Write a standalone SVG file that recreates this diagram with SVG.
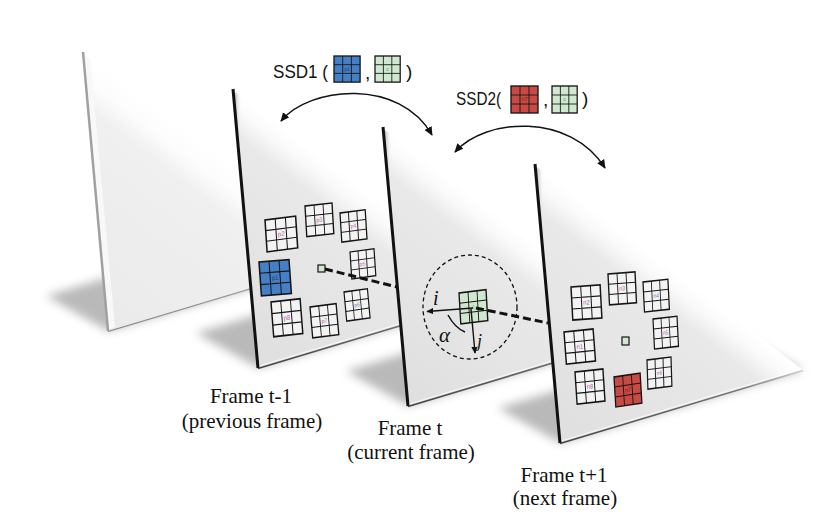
<svg xmlns="http://www.w3.org/2000/svg" xmlns:xlink="http://www.w3.org/1999/xlink" width="834" height="532" viewBox="0 0 834 532">
<style>
.lbl{font-family:"Liberation Serif","Times New Roman",serif;font-size:21px;fill:#111;text-anchor:middle}
.ssd{font-family:"Liberation Sans",Arial,sans-serif;font-size:19px;fill:#111}
.tiny{font-family:"Liberation Sans",Arial,sans-serif;font-size:6px;text-anchor:middle}
.pl{fill:#b85aa8}
.dash{fill:none;stroke:#111;stroke-width:3;stroke-dasharray:8 4}
.arc{fill:none;stroke:#111;stroke-width:1.5}
.math{font-family:"Liberation Serif","Times New Roman",serif;font-style:italic;fill:#111}
</style>
<defs>
  <filter id="blur" x="-30%" y="-30%" width="160%" height="160%"><feGaussianBlur stdDeviation="5"/></filter>
  <linearGradient id="pf" gradientUnits="userSpaceOnUse" x1="0" y1="0" x2="-125.6" y2="163.3">
    <stop offset="0" stop-color="#ffffff"/>
    <stop offset="0.07" stop-color="#fafafa"/>
    <stop offset="0.17" stop-color="#e9e9e9"/>
    <stop offset="1" stop-color="#dfdfdf"/>
  </linearGradient>
  <linearGradient id="pf0" gradientUnits="userSpaceOnUse" x1="0" y1="0" x2="-125.6" y2="163.3">
    <stop offset="0" stop-color="#ffffff"/>
    <stop offset="0.1" stop-color="#fcfcfc"/>
    <stop offset="0.2" stop-color="#f0f0f0"/>
    <stop offset="1" stop-color="#eaeaea"/>
  </linearGradient>
  <linearGradient id="edge" gradientUnits="userSpaceOnUse" x1="0" y1="0" x2="8" y2="0">
    <stop offset="0" stop-color="#9a9a9a"/>
    <stop offset="1" stop-color="#e4e4e4" stop-opacity="0"/>
  </linearGradient>
  <linearGradient id="be" gradientUnits="userSpaceOnUse" x1="25" y1="279" x2="268" y2="206">
    <stop offset="0" stop-color="#444"/>
    <stop offset="0.75" stop-color="#777"/>
    <stop offset="1" stop-color="#cfcfcf"/>
  </linearGradient>
  <g id="panel">
    <polygon points="25,279 -37,244 206,171 268,206" fill="#a8a8a8" opacity="0.8" filter="url(#blur)"/>
    <polygon points="0,0 25,279 268,206" fill="url(#pf)"/>
    <polygon points="1,3 26,277 34,274 9,7" fill="url(#edge)"/>
    <line x1="26" y1="277" x2="266" y2="205" stroke="#fff" stroke-width="1" opacity="0.8"/>
    <line x1="25" y1="279.5" x2="268" y2="206.5" stroke="url(#be)" stroke-width="1.6"/>
  </g>
  <g id="g">
    <rect x="0" y="0" width="30" height="30" stroke="#151515" stroke-width="1.5"/>
    <path d="M10,0V30M20,0V30M0,10H30M0,20H30" stroke="#151515" stroke-width="1" fill="none"/>
  </g>
  <marker id="ah" viewBox="0 0 10 10" refX="9" refY="5" markerWidth="9" markerHeight="9" markerUnits="userSpaceOnUse" orient="auto-start-reverse">
    <path d="M0,0.5 L10,5 L0,9.5 z" fill="#111"/>
  </marker>
  <marker id="ahs" viewBox="0 0 10 10" refX="9" refY="5" markerWidth="7" markerHeight="7" markerUnits="userSpaceOnUse" orient="auto">
    <path d="M0,0.5 L10,5 L0,9.5 z" fill="#111"/>
  </marker>
</defs>
<rect width="834" height="532" fill="#fff"/>

<!-- Frame t-2 (blank) -->
<g id="frame-blank" transform="translate(83,52)">
  <polygon points="25,279 -37,244 206,171 268,206" fill="#a8a8a8" opacity="0.8" filter="url(#blur)"/>
  <polygon points="0,0 25,279 268,206" fill="url(#pf0)"/>
  <polygon points="1,3 26,277 32,275 7,6" fill="#f8f8f8"/>
  <line x1="25" y1="279.5" x2="268" y2="206.5" stroke="url(#be)" stroke-width="1.2" opacity="0.6"/>
  <line x1="0" y1="0" x2="25" y2="279" stroke="#a0a0a0" stroke-width="2.5"/>
</g>

<!-- Frame t-1 -->
<g id="frame-prev">
  <use href="#panel" transform="translate(233,89)"/>
  <line x1="233" y1="89" x2="258" y2="368" stroke="#111" stroke-width="3"/>
  <g transform="matrix(1.02,-0.13,0.07,1.06,265,220)"><use href="#g" fill="#f3f3f3"/><text class="tiny pl" x="15" y="17">p2</text></g>
  <g transform="matrix(0.9,-0.1,0.06,1.02,305,206)"><use href="#g" fill="#f3f3f3"/><text class="tiny pl" x="15" y="17">p3</text></g>
  <g transform="matrix(0.84,-0.11,0.06,0.97,340,213)"><use href="#g" fill="#f3f3f3"/><text class="tiny pl" x="15" y="17">p4</text></g>
  <g transform="matrix(1.0,-0.08,0.08,1.13,259,262)"><use href="#g" fill="#4580c6"/><text class="tiny" x="15" y="17" fill="#1d3c66">p1</text></g>
  <g transform="matrix(0.8,-0.11,0.06,0.9,350,252)"><use href="#g" fill="#f3f3f3"/><text class="tiny pl" x="15" y="17">p5</text></g>
  <g transform="matrix(0.97,-0.11,0.09,1.16,271,302)"><use href="#g" fill="#f3f3f3"/><text class="tiny pl" x="15" y="17">p8</text></g>
  <g transform="matrix(0.87,-0.11,0.09,1.03,310,307)"><use href="#g" fill="#f3f3f3"/><text class="tiny pl" x="15" y="17">p7</text></g>
  <g transform="matrix(0.78,-0.11,0.09,0.97,344,292)"><use href="#g" fill="#f3f3f3"/><text class="tiny" x="15" y="17" fill="#5a7ab8">p6</text></g>
  <rect x="318" y="265" width="7" height="7" fill="#cfe8cf" stroke="#151515" stroke-width="1.2"/>
</g>

<!-- Frame t -->
<g id="frame-current">
  <use href="#panel" transform="translate(383,127)"/>
  <line x1="383" y1="127" x2="408" y2="406" stroke="#111" stroke-width="3"/>
  <ellipse cx="470" cy="307" rx="47" ry="52" fill="none" stroke="#111" stroke-width="1.3" stroke-dasharray="4 3"/>
  <g transform="matrix(0.9,-0.11,0.06,1.03,459,293)"><use href="#g" fill="#cfe8cf"/><text class="tiny" x="15" y="17" fill="#3a9a7a">c</text></g>
  <path d="M448,315 Q455,328 465,332" fill="none" stroke="#111" stroke-width="1.5"/>
  <text class="math" x="433" y="305" font-size="20">i</text>
  <text class="math" x="477" y="347" font-size="18">j</text>
  <text class="math" x="439" y="342" font-size="21">α</text>
</g>

<!-- Frame t+1 -->
<g id="frame-next">
  <use href="#panel" transform="translate(535,164)"/>
  <line x1="535" y1="164" x2="560" y2="443" stroke="#111" stroke-width="3"/>
  <g transform="matrix(0.97,-0.07,0.06,1.1,571,287)"><use href="#g" fill="#f3f3f3"/><text class="tiny pl" x="15" y="17">n2</text></g>
  <g transform="matrix(0.9,-0.07,0.05,1.03,608,274)"><use href="#g" fill="#f3f3f3"/><text class="tiny pl" x="15" y="17">n3</text></g>
  <g transform="matrix(0.83,-0.09,0.05,1.0,643,282)"><use href="#g" fill="#f3f3f3"/><text class="tiny" x="15" y="17" fill="#5a7ab8">n4</text></g>
  <g transform="matrix(0.97,-0.1,0.08,1.07,564,332)"><use href="#g" fill="#f3f3f3"/><text class="tiny pl" x="15" y="17">n1</text></g>
  <g transform="matrix(0.8,-0.09,0.05,1.0,653,319)"><use href="#g" fill="#f3f3f3"/><text class="tiny pl" x="15" y="17">n5</text></g>
  <g transform="matrix(0.93,-0.1,0.07,1.07,575,372)"><use href="#g" fill="#f3f3f3"/><text class="tiny pl" x="15" y="17">n8</text></g>
  <g transform="matrix(0.87,-0.13,0.06,1.0,614,377)"><use href="#g" fill="#c94a45"/><text class="tiny" x="15" y="17" fill="#6a1f1c">n7</text></g>
  <g transform="matrix(0.8,-0.1,0.03,0.97,647,360)"><use href="#g" fill="#f3f3f3"/><text class="tiny pl" x="15" y="17">n6</text></g>
  <rect x="622" y="337" width="7" height="8" fill="#cfe8cf" stroke="#151515" stroke-width="1.2"/>
</g>

<!-- SSD formulas -->
<g id="ssd1">
  <text class="ssd" x="273" y="78" textLength="55" lengthAdjust="spacingAndGlyphs">SSD1 (</text>
  <g transform="translate(334,56) scale(0.87,0.87)"><use href="#g" fill="#4580c6"/><text class="tiny" x="15" y="17" fill="#1d3c66">p1</text></g>
  <text class="ssd" x="365" y="79">,</text>
  <g transform="translate(375,56) scale(0.84,0.87)"><use href="#g" fill="#cfe8cf"/><text class="tiny" x="15" y="17" fill="#3a9a7a">c</text></g>
  <text class="ssd" x="406" y="78">)</text>
</g>
<g id="ssd2">
  <text class="ssd" x="456" y="105" textLength="45" lengthAdjust="spacingAndGlyphs">SSD2(</text>
  <g transform="translate(511,86) scale(0.9,0.9)"><use href="#g" fill="#c94a45"/><text class="tiny" x="15" y="17" fill="#6a1f1c">n7</text></g>
  <text class="ssd" x="543" y="106">,</text>
  <g transform="translate(552,86) scale(0.84,0.9)"><use href="#g" fill="#cfe8cf"/><text class="tiny" x="15" y="17" fill="#3a9a7a">c</text></g>
  <text class="ssd" x="582" y="105">)</text>
</g>

<!-- Labels -->
<g id="labels">
  <text class="lbl" x="251" y="403">Frame t-1</text>
  <text class="lbl" x="252" y="428">(previous frame)</text>
  <text class="lbl" x="410" y="435">Frame t</text>
  <text class="lbl" x="411" y="459">(current frame)</text>
  <text class="lbl" x="564" y="482">Frame t+1</text>
  <text class="lbl" x="565" y="505">(next frame)</text>
</g>

<!-- Connectors -->
<g id="connectors">
  <line class="dash" x1="325" y1="269" x2="397" y2="287"/>
  <line class="dash" x1="476" y1="308" x2="548" y2="323"/>
  <line x1="473" y1="308" x2="427" y2="311.5" stroke="#111" stroke-width="1.4" marker-end="url(#ahs)"/>
  <line x1="471" y1="309" x2="475" y2="353" stroke="#111" stroke-width="1.4" marker-end="url(#ahs)"/>
  <path class="arc" d="M281,121 C310,86 400,78 432,135" marker-start="url(#ah)" marker-end="url(#ah)"/>
  <path class="arc" d="M455,152 C485,118 570,112 605,168" marker-start="url(#ah)" marker-end="url(#ah)"/>
</g>
</svg>
